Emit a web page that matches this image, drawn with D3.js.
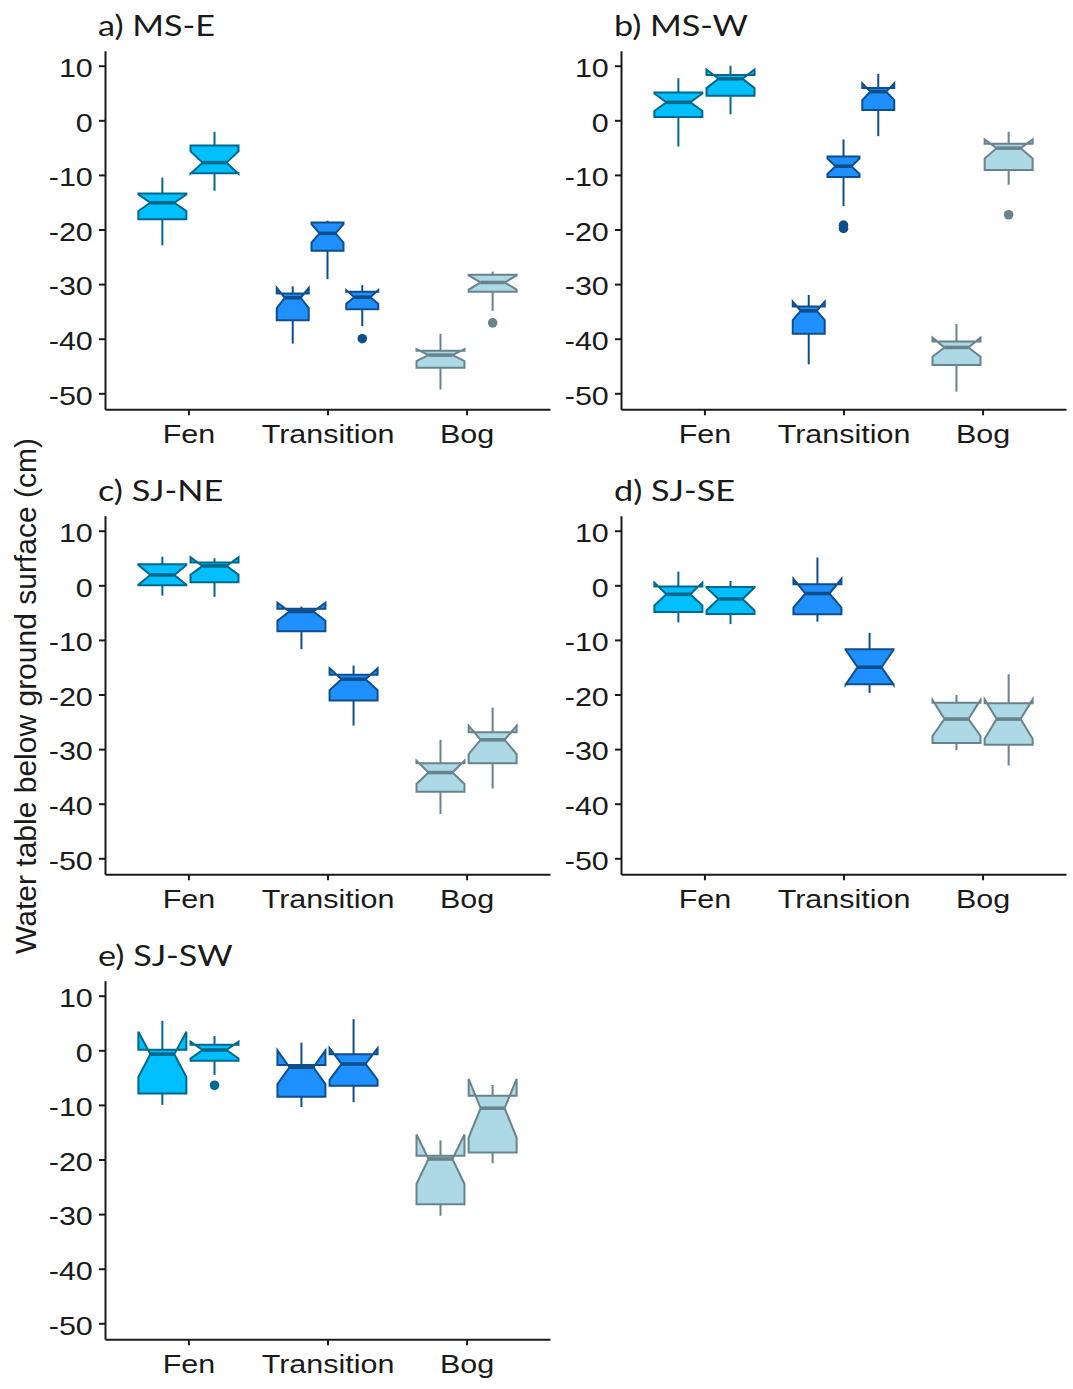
<!DOCTYPE html>
<html>
<head>
<meta charset="utf-8">
<script src="https://cdn.jsdelivr.net/npm/d3@7"></script>
<style>
  body { margin: 0; background: #fff; }
</style>
</head>
<body>
<svg id="chart" width="1073" height="1389"></svg>
<script>
// Water-table depth per site, shown as notched box plots by peatland zone.
const categories = ["Fen", "Transition", "Bog"];
const yTicks = [10, 0, -10, -20, -30, -40, -50];
const panelTitles = ["a) MS-E", "b) MS-W", "c) SJ-NE", "d) SJ-SE", "e) SJ-SW"];

// Each row: zone, lower whisker, Q1, median, Q3, upper whisker, notch low, notch high, outliers
const msE = [
  ["Fen", -22.9, -18.1, -15.1, -13.4, -10.5, -16.6, -13.6, []],
  ["Fen", -12.9, -9.7, -7.75, -4.6, -2.1, -9.8, -5.7, []],
  ["Transition", -40.9, -36.6, -32.5, -31.7, -30.4, -34.4, -30.7, []],
  ["Transition", -29.1, -23.9, -20.7, -18.7, -18.4, -22.4, -19.0, []],
  ["Transition", -37.7, -34.6, -32.4, -31.4, -30.2, -33.6, -31.1, [-40.0]],
  ["Bog", -49.3, -45.3, -43.0, -42.2, -39.1, -44.1, -41.9, []],
  ["Bog", -34.9, -31.4, -29.7, -28.3, -27.7, -31.0, -28.4, [-37.1]]
];
const msW = [
  ["Fen", -4.8, 0.6, 3.3, 5.1, 7.7, 1.7, 4.9, []],
  ["Fen", 1.1, 4.5, 7.6, 8.3, 10.0, 5.9, 9.3, []],
  ["Transition", -44.7, -39.1, -34.9, -34.1, -32.0, -36.6, -33.2, []],
  ["Transition", -15.7, -10.4, -8.4, -6.65, -3.5, -9.8, -7.0, [-19.2, -19.8]],
  ["Transition", -2.9, 1.9, 5.25, 5.9, 8.5, 3.7, 6.8, []],
  ["Bog", -49.7, -44.8, -41.6, -40.5, -37.3, -43.3, -39.8, []],
  ["Bog", -11.8, -9.1, -5.1, -4.3, -2.1, -7.0, -3.5, [-17.3]]
];
const sjNE = [
  ["Fen", -1.9, 0.0, 1.9, 3.85, 5.25, 0.1, 3.7, []],
  ["Fen", -2.1, 0.55, 3.55, 4.2, 4.95, 1.95, 5.15, []],
  ["Transition", -11.7, -8.4, -4.8, -4.3, -3.9, -6.5, -3.2, []],
  ["Transition", -25.7, -21.1, -17.2, -16.4, -14.7, -19.2, -15.2, []],
  ["Bog", -41.9, -37.8, -34.3, -32.6, -28.3, -36.4, -32.1, []],
  ["Bog", -37.2, -32.6, -28.3, -26.9, -22.4, -30.9, -25.7, []]
];
const sjSE = [
  ["Fen", -6.8, -4.9, -1.65, -0.2, 2.5, -3.7, 0.5, []],
  ["Fen", -7.1, -5.25, -2.5, -0.3, 0.8, -4.6, -0.4, []],
  ["Transition", -6.65, -5.3, -1.5, 0.2, 5.1, -4.1, 1.2, []],
  ["Transition", -19.7, -18.1, -15.0, -11.7, -8.7, -18.2, -11.8, []],
  ["Bog", -30.2, -28.9, -24.5, -21.5, -20.1, -27.6, -21.0, []],
  ["Bog", -33.0, -29.2, -24.5, -21.6, -16.3, -28.1, -20.9, []]
];
const sjSW = [
  ["Fen", -10.0, -7.9, -0.7, 0.1, 5.4, -4.9, 3.4, []],
  ["Fen", -4.5, -1.9, 0.05, 1.0, 2.6, -1.5, 1.6, [-6.4]],
  ["Transition", -10.4, -8.5, -3.1, -2.7, 1.4, -6.2, 0.0, []],
  ["Transition", -9.5, -6.5, -2.5, -0.7, 5.7, -5.4, 0.4, []],
  ["Bog", -30.3, -28.2, -19.9, -19.3, -16.5, -24.5, -15.4, []],
  ["Bog", -20.7, -18.7, -10.6, -8.3, -6.35, -16.0, -5.25, []]
];
const panelStats = [msE, msW, sjNE, sjSE, sjSW];

const fills = { Fen: "#00BFFF", Transition: "#1E90FF", Bog: "#ADD8E6" };
const strokes = { Fen: "#00688B", Transition: "#104E8B", Bog: "#68838B" };

const svg = d3.select("#chart");
const W = 445, H = 358.6;
const colX = [105, 621];
const rowY = [50.7, 515.7, 980.7];
const xStretch = 1.22;
const axisColor = "#1a1a1a";
const textColor = "#1a1a1a";

const y = d3.scaleLinear().domain([-52.93, 12.75]).range([H, 0]);
const x = d3.scalePoint().domain(categories).range([0, W]).padding(0.6);

panelStats.forEach((stats, p) => {
  const g = svg.append("g")
    .attr("transform", `translate(${colX[p % 2]},${rowY[Math.floor(p / 2)]})`);

  // panel title
  g.append("text")
    .attr("transform", `translate(-7,${-14.7}) scale(${xStretch - 0.04},1)`)
    .attr("font-family", "Lato, 'Open Sans', sans-serif")
    .attr("font-size", 29)
    .attr("fill", textColor)
    .text(panelTitles[p]);

  // boxes, dodged within each zone
  const step = x.step();
  const total = 0.75 * step;
  const boxes = [];
  categories.forEach(cat => {
    const rows = stats.filter(r => r[0] === cat);
    const slot = total / rows.length;
    rows.forEach((r, i) => {
      boxes.push({
        cat, lo: r[1], q1: r[2], med: r[3], q3: r[4], hi: r[5],
        nlo: r[6], nhi: r[7], out: r[8],
        cx: x(cat) - total / 2 + slot * (i + 0.5),
        w: slot * 0.92
      });
    });
  });

  const bg = g.selectAll("g.box").data(boxes).join("g").attr("class", "box");

  // whiskers
  bg.append("line")
    .attr("x1", d => d.cx).attr("x2", d => d.cx)
    .attr("y1", d => y(d.q3)).attr("y2", d => y(d.hi))
    .attr("stroke", d => strokes[d.cat]).attr("stroke-width", 2);
  bg.append("line")
    .attr("x1", d => d.cx).attr("x2", d => d.cx)
    .attr("y1", d => y(d.q1)).attr("y2", d => y(d.lo))
    .attr("stroke", d => strokes[d.cat]).attr("stroke-width", 2);

  // notched box outline
  bg.append("path")
    .attr("d", d => {
      const x0 = d.cx - d.w / 2, x1 = d.cx + d.w / 2, nw = d.w * 0.25;
      const pts = [
        [x0, y(d.q3)], [x0, y(d.nhi)], [x0 + nw, y(d.med)], [x0, y(d.nlo)], [x0, y(d.q1)],
        [x1, y(d.q1)], [x1, y(d.nlo)], [x1 - nw, y(d.med)], [x1, y(d.nhi)], [x1, y(d.q3)]
      ];
      return d3.line()(pts) + "Z";
    })
    .attr("fill", d => fills[d.cat])
    .attr("stroke", d => strokes[d.cat])
    .attr("stroke-width", 2)
    .attr("stroke-linejoin", "miter");

  // median
  bg.append("line")
    .attr("x1", d => d.cx - d.w / 4).attr("x2", d => d.cx + d.w / 4)
    .attr("y1", d => y(d.med)).attr("y2", d => y(d.med))
    .attr("stroke", d => strokes[d.cat]).attr("stroke-width", 3.6);

  // outliers
  bg.each(function (d) {
    d3.select(this).selectAll("circle").data(d.out).join("circle")
      .attr("cx", d.cx).attr("cy", v => y(v)).attr("r", 4.8)
      .attr("fill", strokes[d.cat]);
  });

  // axes
  const ya = g.append("g").call(
    d3.axisLeft(y).tickValues(yTicks).tickSize(6).tickPadding(4).tickSizeOuter(0)
      .tickFormat(d3.format("d"))
  );
  const xa = g.append("g").attr("transform", `translate(0,${H})`).call(
    d3.axisBottom(x).tickSize(6).tickSizeOuter(0)
  );
  [ya, xa].forEach(a => {
    a.select(".domain").attr("stroke", axisColor).attr("stroke-width", 2);
    a.selectAll(".tick line").attr("stroke", axisColor).attr("stroke-width", 2);
    a.selectAll("text")
      .attr("font-family", "'Liberation Sans', Arial, sans-serif")
      .attr("font-size", 25)
      .attr("fill", textColor)
      .attr("transform", `scale(${xStretch},1)`);
  });
  ya.selectAll("text").attr("dy", "0.43em").text(d => d < 0 ? "-" + Math.abs(d) : d);
  xa.selectAll("text").attr("y", 34).attr("dy", 0);
});

// shared y-axis title
svg.append("text")
  .attr("transform", "translate(36,696) rotate(-90)")
  .attr("text-anchor", "middle")
  .attr("font-family", "'Liberation Sans', Arial, sans-serif")
  .attr("font-size", 30)
  .attr("fill", textColor)
  .text("Water table below ground surface (cm)");
</script>
</body>
</html>
